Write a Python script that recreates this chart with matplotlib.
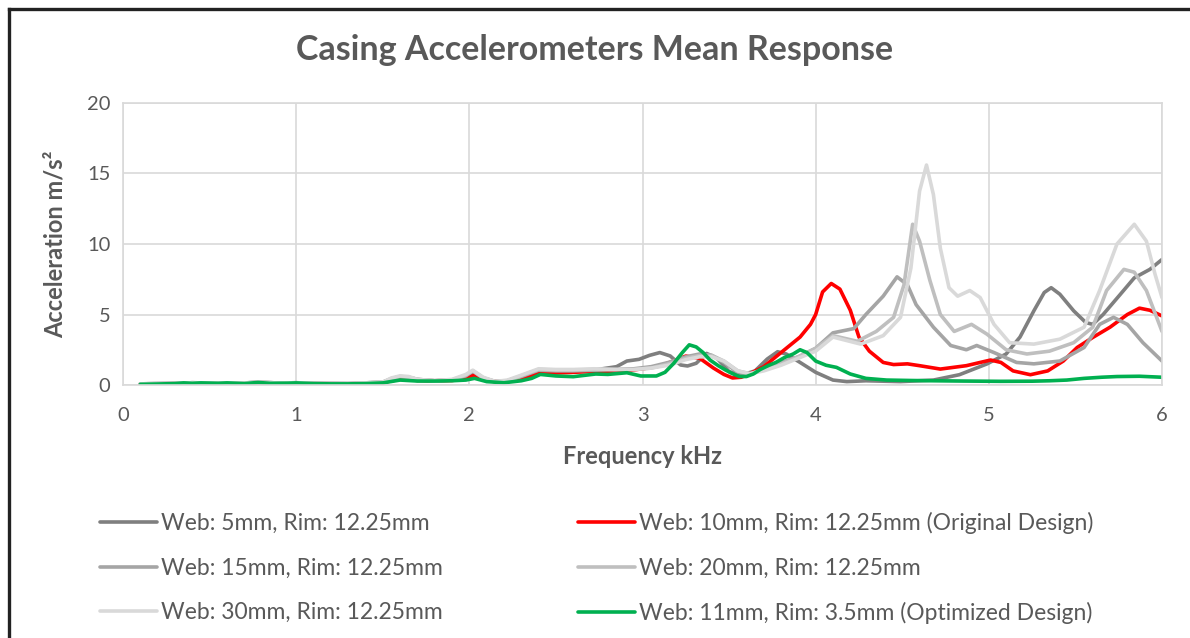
import matplotlib
matplotlib.use("Agg")
import matplotlib.pyplot as plt
from matplotlib.lines import Line2D

# ---------------- data ----------------
labels = ["Web: 5mm, Rim: 12.25mm",
          "Web: 10mm, Rim: 12.25mm (Original Design)",
          "Web: 15mm, Rim: 12.25mm",
          "Web: 20mm, Rim: 12.25mm",
          "Web: 30mm, Rim: 12.25mm",
          "Web: 11mm, Rim: 3.5mm (Optimized Design)"]
colors = ["#7f7f7f", "#ff0000", "#a5a5a5", "#bfbfbf", "#d9d9d9", "#00b050"]

low_f = [0.1, 0.2, 0.3, 0.4, 0.5, 0.6, 0.7, 0.78, 0.9, 1.0, 1.1, 1.3, 1.5,
         1.55, 1.6, 1.65, 1.7, 1.8, 1.9, 1.98, 2.02, 2.08, 2.15, 2.22, 2.3,
         2.4, 2.5, 2.6, 2.72, 2.85]

web5_f = low_f + [2.91, 2.98, 3.04, 3.1, 3.16, 3.22, 3.26, 3.31, 3.37, 3.43,
                  3.5, 3.57, 3.65, 3.72, 3.78, 3.83, 3.91, 4.0, 4.1, 4.18,
                  4.29, 4.49, 4.68, 4.83, 4.99, 5.1, 5.18, 5.26, 5.32, 5.36,
                  5.41, 5.49, 5.56, 5.6, 5.66, 5.76, 5.84, 5.93, 6.0]
web5_v = [0.08, 0.1, 0.12, 0.16, 0.14, 0.15, 0.14, 0.2, 0.14, 0.16, 0.12, 0.1,
          0.2, 0.4, 0.55, 0.5, 0.35, 0.3, 0.35, 0.6, 0.9, 0.45, 0.22, 0.3,
          0.6, 1.0, 0.95, 0.95, 1.06, 1.3,
          1.7, 1.82, 2.1, 2.3, 2.06, 1.42, 1.35, 1.54, 2.24, 1.9,
          0.95, 0.7, 1.0, 1.84, 2.36, 2.2, 1.6, 0.9, 0.35, 0.24,
          0.3, 0.24, 0.35, 0.73, 1.5, 2.2, 3.4, 5.26, 6.56, 6.9,
          6.44, 5.26, 4.43, 4.3, 5.0, 6.44, 7.6, 8.2, 8.9]

web10_f = [0.1, 0.2, 0.3, 0.4, 0.5, 0.6, 0.7, 0.78, 0.9, 1.0, 1.1, 1.3, 1.5,
           1.55, 1.6, 1.65, 1.7, 1.8, 1.9, 1.98, 2.03, 2.1, 2.2, 2.3, 2.4,
           2.5, 2.6, 2.7, 2.8, 2.9, 3.0, 3.1, 3.18, 3.25, 3.33, 3.41, 3.47,
           3.52, 3.57, 3.62, 3.7, 3.77, 3.84, 3.91, 3.97, 4.0, 4.04, 4.09,
           4.14, 4.2, 4.25, 4.31, 4.39, 4.45, 4.53, 4.6, 4.72, 4.87, 4.95,
           5.01, 5.07, 5.14, 5.24, 5.34, 5.43, 5.51, 5.6, 5.7, 5.8, 5.87,
           5.93, 6.0]
web10_v = [0.06, 0.08, 0.1, 0.14, 0.12, 0.13, 0.12, 0.18, 0.12, 0.14, 0.1,
           0.08, 0.15, 0.3, 0.4, 0.4, 0.32, 0.3, 0.32, 0.45, 0.7, 0.3, 0.2,
           0.4, 0.85, 0.85, 0.9, 0.95, 0.95, 1.0, 1.15, 1.35, 1.7, 2.05, 1.9,
           1.2, 0.75, 0.5, 0.55, 0.8, 1.3, 2.0, 2.7, 3.4, 4.3, 5.0, 6.6, 7.2,
           6.8, 5.3, 3.4, 2.4, 1.6, 1.45, 1.5, 1.37, 1.13, 1.37, 1.6,
           1.77, 1.6, 1.0, 0.73, 1.0, 1.7, 2.66, 3.37, 4.1, 5.0, 5.45,
           5.3, 4.9]

web15_f = low_f + [2.95, 3.05, 3.15, 3.25, 3.33, 3.4, 3.47, 3.55, 3.62, 3.7,
                   3.8, 3.9, 4.0, 4.1, 4.22, 4.29, 4.39, 4.47, 4.53, 4.58,
                   4.68, 4.78, 4.87, 4.93, 5.03, 5.16, 5.26, 5.41, 5.55, 5.64,
                   5.72, 5.8, 5.89, 6.0]
web15_v = [0.08, 0.1, 0.12, 0.16, 0.14, 0.15, 0.14, 0.2, 0.14, 0.16, 0.12, 0.1,
           0.2, 0.45, 0.6, 0.55, 0.4, 0.3, 0.35, 0.65, 1.0, 0.5, 0.25, 0.3,
           0.6, 1.05, 1.0, 1.0, 1.05, 1.1,
           1.15, 1.3, 1.6, 2.0, 2.2, 2.1, 1.6, 0.9, 0.75, 1.1,
           1.6, 2.0, 2.6, 3.7, 4.0, 5.0, 6.3, 7.67, 7.1, 5.7,
           4.1, 2.8, 2.5, 2.8, 2.3, 1.6, 1.5, 1.7, 2.66, 4.3,
           4.8, 4.3, 3.0, 1.7]

web20_f = low_f + [2.95, 3.05, 3.15, 3.25, 3.33, 3.4, 3.47, 3.55, 3.62, 3.7,
                   3.8, 3.9, 4.0, 4.1, 4.24, 4.35, 4.45, 4.51, 4.56, 4.6,
                   4.66, 4.72, 4.8, 4.9, 4.99, 5.1, 5.22, 5.35, 5.49, 5.6,
                   5.68, 5.78, 5.84, 5.91, 6.0]
web20_v = [0.08, 0.1, 0.12, 0.16, 0.14, 0.15, 0.14, 0.2, 0.14, 0.16, 0.12, 0.1,
           0.2, 0.45, 0.6, 0.55, 0.4, 0.3, 0.35, 0.7, 1.0, 0.5, 0.25, 0.3,
           0.65, 1.1, 1.05, 1.05, 1.1, 1.1,
           1.1, 1.2, 1.5, 1.9, 2.1, 2.1, 1.7, 1.0, 0.8, 1.1,
           1.5, 2.0, 2.6, 3.5, 3.1, 3.8, 4.8, 7.1, 11.4, 10.2,
           7.4, 5.0, 3.8, 4.3, 3.6, 2.5, 2.2, 2.4, 3.0, 4.1,
           6.7, 8.2, 8.0, 6.7, 3.8]

web30_f = low_f + [2.95, 3.05, 3.15, 3.25, 3.33, 3.4, 3.47, 3.55, 3.62, 3.7,
                   3.8, 3.9, 4.0, 4.1, 4.26, 4.39, 4.49, 4.55, 4.6, 4.64,
                   4.68, 4.72, 4.77, 4.82, 4.89, 4.95, 5.03, 5.12, 5.26, 5.41,
                   5.55, 5.64, 5.74, 5.84, 5.91, 5.96, 6.0]
web30_v = [0.08, 0.1, 0.12, 0.16, 0.14, 0.15, 0.14, 0.2, 0.14, 0.16, 0.12, 0.1,
           0.2, 0.5, 0.65, 0.6, 0.4, 0.3, 0.4, 0.75, 1.05, 0.55, 0.25, 0.35,
           0.7, 1.15, 1.1, 1.1, 1.15, 1.1,
           1.1, 1.2, 1.4, 1.8, 2.0, 2.0, 1.7, 1.0, 0.8, 1.0,
           1.4, 1.9, 2.4, 3.4, 2.9, 3.5, 4.8, 8.3, 13.75, 15.6,
           13.5, 9.7, 6.9, 6.3, 6.7, 6.2, 4.3, 3.0, 2.9, 3.25,
           4.1, 6.7, 10.0, 11.4, 10.2, 7.85, 6.2]

web11_f = [0.1, 0.2, 0.3, 0.35, 0.4, 0.45, 0.55, 0.6, 0.7, 0.78, 0.85, 0.95,
           1.0, 1.1, 1.2, 1.3, 1.4, 1.5, 1.55, 1.6, 1.7, 1.8, 1.9, 1.98,
           2.03, 2.1, 2.2, 2.3, 2.36, 2.41, 2.5, 2.6, 2.73, 2.8, 2.91, 2.99,
           3.08, 3.13, 3.18, 3.23, 3.27, 3.31, 3.35, 3.39, 3.44, 3.48, 3.52,
           3.56, 3.6, 3.64, 3.68, 3.73, 3.77, 3.82, 3.87, 3.91, 3.95, 4.0,
           4.06, 4.12, 4.2, 4.29, 4.41, 4.55, 4.68, 4.85, 5.07, 5.25, 5.35,
           5.45, 5.55, 5.65, 5.74, 5.87, 6.0]
web11_v = [0.05, 0.07, 0.1, 0.15, 0.12, 0.15, 0.12, 0.15, 0.1, 0.18, 0.12,
           0.13, 0.15, 0.1, 0.08, 0.08, 0.1, 0.15, 0.25, 0.35, 0.28, 0.28,
           0.3, 0.35, 0.47, 0.24, 0.16, 0.3, 0.47, 0.75, 0.64, 0.59, 0.78,
           0.75, 0.87, 0.64, 0.64, 0.9, 1.53, 2.3, 2.85, 2.7, 2.3, 1.77,
           1.35, 1.06, 0.8, 0.6, 0.6, 0.78, 1.1, 1.4, 1.6, 1.95, 2.2, 2.5,
           2.3, 1.7, 1.4, 1.25, 0.78, 0.47, 0.35, 0.32, 0.3, 0.28, 0.26,
           0.27, 0.3, 0.35, 0.47, 0.55, 0.6, 0.62, 0.55]

series_f = [web5_f, web10_f, web15_f, web20_f, web30_f, web11_f]
series_v = [web5_v, web10_v, web15_v, web20_v, web30_v, web11_v]

x_ticks = [0, 1, 2, 3, 4, 5, 6]
y_ticks = [0, 5, 10, 15, 20]

# ---------------- styling ----------------
TXT = "#595959"
GRID = "#d9d9d9"
FONT = "Lato"
plt.rcParams["font.family"] = [FONT, "DejaVu Sans"]

fig = plt.figure(figsize=(11.9, 6.38), dpi=100)
ax = fig.add_axes([123 / 1190, 1 - 385 / 638, (1162 - 123) / 1190, (385 - 103) / 638])

handles = []
for f, v, c, lab in zip(series_f, series_v, colors, labels):
    ln, = ax.plot(f, v, color=c, lw=2.6, solid_joinstyle="round",
                  solid_capstyle="round", label=lab)
    handles.append(ln)

ax.set_xlim(0, 6)
ax.set_ylim(0, 20)
ax.set_xticks(x_ticks)
ax.set_yticks(y_ticks)
ax.grid(True, color=GRID, lw=1.2)
ax.set_axisbelow(True)
for s in ax.spines.values():
    s.set_color(GRID)
    s.set_linewidth(1.2)
ax.tick_params(length=0, labelsize=14.5, labelcolor=TXT)
ax.tick_params(axis="x", pad=16)
ax.tick_params(axis="y", pad=9)

ax.set_xlabel("Frequency kHz", fontsize=17, fontweight="bold", color=TXT, labelpad=15)
ax.set_ylabel("Acceleration m/s²", fontsize=17, fontweight="bold", color=TXT, labelpad=15)

fig.text(0.5, 1 - 49.5 / 638, "Casing Accelerometers Mean Response", ha="center",
         va="center", fontsize=24.5, fontweight="bold", color=TXT)

# Excel legend is row-major: reorder for matplotlib's column-major filling
order = [0, 2, 4, 1, 3, 5]
leg = fig.legend(handles=[handles[i] for i in order], loc="upper left", ncol=2,
                 bbox_to_anchor=(100 / 1190, 1 - 512 / 638),
                 frameon=False, fontsize=16.5, handlelength=2.5, handletextpad=0.15,
                 columnspacing=5.9, labelspacing=1.03, borderaxespad=0, borderpad=0)
for t in leg.get_texts():
    t.set_color(TXT)

# figure border (top and left)
fig.add_artist(Line2D([8.5 / 1190, 1], [1 - 8.5 / 638, 1 - 8.5 / 638],
                      transform=fig.transFigure, color="#222222", lw=2.4))
fig.add_artist(Line2D([8.5 / 1190, 8.5 / 1190], [1 - 8.5 / 638, 0],
                      transform=fig.transFigure, color="#222222", lw=2.4))

fig.savefig("out.png", dpi=100)
